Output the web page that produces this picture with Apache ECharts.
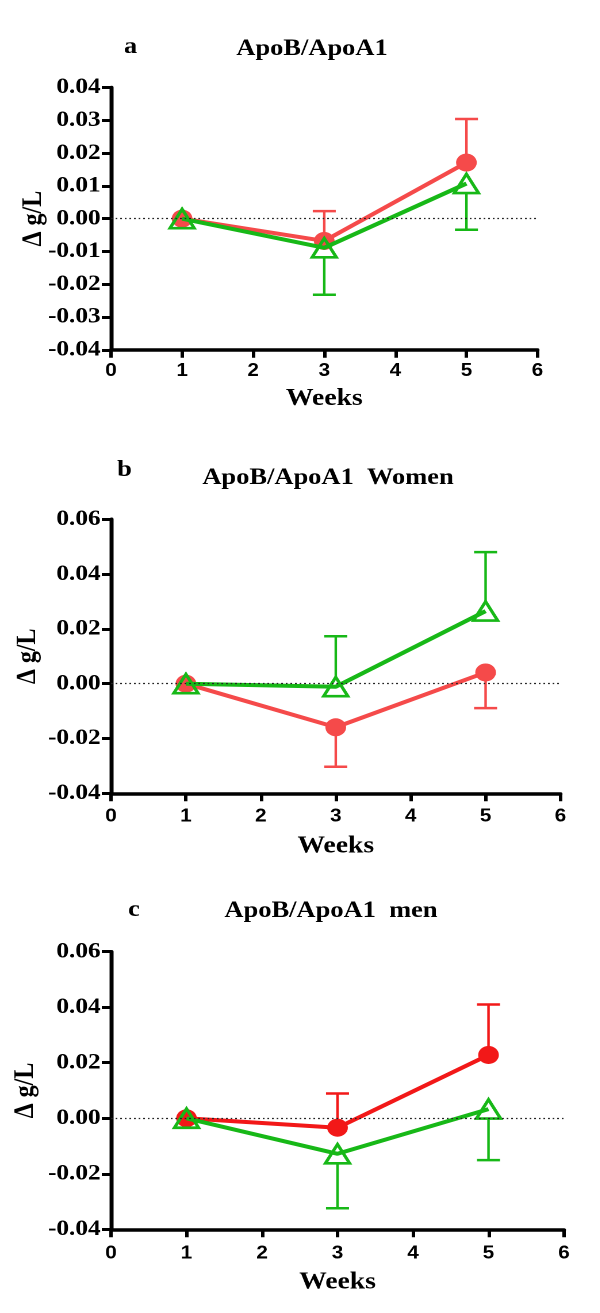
<!DOCTYPE html>
<html>
<head>
<meta charset="utf-8">
<script src="https://cdn.jsdelivr.net/npm/echarts@6/dist/echarts.min.js"></script>
<style>
  html, body { margin: 0; padding: 0; background: #fff; }
  #wrap { width: 600px; height: 1313px; overflow: hidden; }
  #chart { height: 1313px; transform-origin: 0 0; }
</style>
</head>
<body>
<div id="wrap"><div id="chart"></div></div>
<script>
// ---------------- data ----------------
const weeks = [1, 3, 5];
const xTicks = [0, 1, 2, 3, 4, 5, 6];
const yTicksA = [-0.04, -0.03, -0.02, -0.01, 0.00, 0.01, 0.02, 0.03, 0.04];
const yTicksBC = [-0.04, -0.02, 0.00, 0.02, 0.04, 0.06];

const panelLetters = ['a', 'b', 'c'];
const panelTitles = ['ApoB/ApoA1', 'ApoB/ApoA1  Women', 'ApoB/ApoA1  men'];
const xAxisName = 'Weeks';
const yAxisName = 'Δ g/L';

// panel a
const aRedMean = [0, -0.0068, 0.0171];
const aRedSem = [0, 0.0091, 0.0133];
const aGreenMean = [0, -0.0089, 0.0107];
const aGreenSem = [0, 0.0143, 0.0141];
// panel b (women)
const bRedMean = [0, -0.0159, 0.0041];
const bRedSem = [0, 0.0144, 0.0130];
const bGreenMean = [0, -0.0011, 0.0265];
const bGreenSem = [0, 0.0184, 0.0215];
// panel c (men)
const cRedMean = [0, -0.0034, 0.0228];
const cRedSem = [0, 0.0123, 0.0182];
const cGreenMean = [0, -0.0128, 0.0033];
const cGreenSem = [0, 0.0196, 0.0184];

// ---------------- layout / style ----------------
const S = 1.15; // horizontal stretch of the original figure
const W = 600 / S;
const chartEl = document.getElementById('chart');
chartEl.style.width = W + 'px';
chartEl.style.transform = 'scaleX(' + S + ')';

const RED_AB = '#f54a4a';
const RED_C = '#f21818';
const GREEN = '#17b817';
const SERIF = '"Liberation Serif", "Times New Roman", serif';
const SANS = '"Liberation Sans", Arial, sans-serif';
const TRI = [21, 19];

// redDir / greenDir: side of the one-sided error bar (+1 up, -1 down)
const panels = [
  { top: 87.5, bottom: 349.8, left: 111, right: 537.5, xm: 12, gx: 37, gy: 55,
    yTicks: yTicksA, red: RED_AB, rm: aRedMean, rs: aRedSem, gm: aGreenMean, gs: aGreenSem,
    redDir: 1, greenDir: -1, letter: [130.5, 47], title: [312, 49] },
  { top: 519.3, bottom: 793.3, left: 111, right: 560.5, xm: 14, gx: 41, gy: 60,
    yTicks: yTicksBC, red: RED_AB, rm: bRedMean, rs: bRedSem, gm: bGreenMean, gs: bGreenSem,
    redDir: -1, greenDir: 1, letter: [124.5, 470], title: [328, 478] },
  { top: 951.7, bottom: 1229.3, left: 111, right: 564, xm: 15, gx: 41, gy: 62,
    yTicks: yTicksBC, red: RED_C, rm: cRedMean, rs: cRedSem, gm: cGreenMean, gs: cGreenSem,
    redDir: 1, greenDir: -1, letter: [134, 910], title: [331, 911] }
];

function errRenderer(color, dir, startOffset) {
  return function (params, api) {
    const x = api.value(0), y = api.value(1), e = api.value(2);
    if (!e) return null;
    const p0 = api.coord([x, y]);
    const p1 = api.coord([x, y + dir * e]);
    const hw = 10;
    const ys = p0[1] - dir * startOffset;
    return {
      type: 'group',
      children: [
        { type: 'line', shape: { x1: p0[0], y1: ys, x2: p1[0], y2: p1[1] },
          style: { stroke: color, lineWidth: 2.2 } },
        { type: 'line', shape: { x1: p1[0] - hw, y1: p1[1], x2: p1[0] + hw, y2: p1[1] },
          style: { stroke: color, lineWidth: 2.5 } }
      ]
    };
  };
}

const grids = [], xAxes = [], yAxes = [], series = [], graphics = [];

panels.forEach(function (p, i) {
  grids.push({ left: p.left / S, width: (p.right - p.left) / S, top: p.top, height: p.bottom - p.top });
  xAxes.push({
    gridIndex: i, type: 'value',
    min: xTicks[0], max: xTicks[xTicks.length - 1], interval: xTicks[1] - xTicks[0],
    name: xAxisName, nameLocation: 'middle', nameGap: p.gx, nameMoveOverlap: false,
    nameTextStyle: { fontFamily: SERIF, fontWeight: 'bold', fontSize: 24, color: '#000' },
    axisLine: { onZero: false, lineStyle: { color: '#000', width: 3.5 } },
    axisTick: { show: true, length: 8, lineStyle: { color: '#000', width: 3 } },
    axisLabel: { margin: p.xm, fontFamily: SANS, fontWeight: 'bold', fontSize: 18, color: '#000' },
    splitLine: { show: false }
  });
  yAxes.push({
    gridIndex: i, type: 'value',
    min: p.yTicks[0], max: p.yTicks[p.yTicks.length - 1], interval: +(p.yTicks[1] - p.yTicks[0]).toFixed(4),
    name: yAxisName, nameLocation: 'middle', nameGap: p.gy, nameMoveOverlap: false,
    nameTextStyle: { fontFamily: SERIF, fontWeight: 'bold', fontSize: 24, color: '#000' },
    axisLine: { onZero: false, lineStyle: { color: '#000', width: 3.5 } },
    axisTick: { show: true, length: 8, lineStyle: { color: '#000', width: 3 } },
    axisLabel: {
      margin: 9, fontFamily: SERIF, fontWeight: 'bold', fontSize: 22, color: '#000',
      formatter: function (v) { return Math.abs(v) < 1e-9 ? '0.00' : v.toFixed(2); }
    },
    splitLine: { show: false }
  });

  const redData = weeks.map(function (w, k) { return [w, p.rm[k]]; });
  const greenData = weeks.map(function (w, k) { return [w, p.gm[k]]; });
  const redErr = weeks.map(function (w, k) { return [w, p.rm[k], p.rs[k]]; });
  const greenErr = weeks.map(function (w, k) { return [w, p.gm[k], p.gs[k]]; });

  series.push({
    type: 'custom', xAxisIndex: i, yAxisIndex: i, z: 1, silent: true,
    renderItem: errRenderer(p.red, p.redDir, 0), data: redErr,
    encode: { x: 0, y: 1 },
    markLine: {
      silent: true, symbol: ['none', 'none'], label: { show: false },
      lineStyle: { color: '#222', width: 1.3, type: [1.5, 2.5] },
      emphasis: { disabled: true },
      data: [{ yAxis: 0 }]
    }
  });
  series.push({
    type: 'custom', xAxisIndex: i, yAxisIndex: i, z: 1, silent: true,
    renderItem: errRenderer(GREEN, p.greenDir, TRI[1] / 2), data: greenErr,
    encode: { x: 0, y: 1 }
  });
  series.push({
    type: 'line', xAxisIndex: i, yAxisIndex: i, z: 3, data: redData,
    symbol: 'circle', symbolSize: 18, showAllSymbol: true,
    lineStyle: { color: p.red, width: 4 },
    itemStyle: { color: p.red, borderWidth: 0 }
  });
  series.push({
    type: 'line', xAxisIndex: i, yAxisIndex: i, z: 4, data: greenData,
    symbol: 'triangle', symbolSize: TRI, showAllSymbol: true,
    lineStyle: { color: GREEN, width: 4 },
    itemStyle: { color: 'rgba(255,255,255,0)', borderColor: GREEN, borderWidth: 2.8 }
  });

  graphics.push({
    type: 'text', x: p.letter[0] / S, y: p.letter[1],
    style: { text: panelLetters[i], fill: '#000', font: 'bold 23px ' + SERIF, align: 'center', verticalAlign: 'middle' }
  });
  graphics.push({
    type: 'text', x: p.title[0] / S, y: p.title[1],
    style: { text: panelTitles[i], fill: '#000', font: 'bold 23px ' + SERIF, align: 'center', verticalAlign: 'middle' }
  });
});

const chart = echarts.init(chartEl, null, { renderer: 'canvas', devicePixelRatio: 2 });
chart.setOption({
  animation: false,
  backgroundColor: '#fff',
  grid: grids,
  xAxis: xAxes,
  yAxis: yAxes,
  series: series,
  graphic: graphics
});
</script>
</body>
</html>
